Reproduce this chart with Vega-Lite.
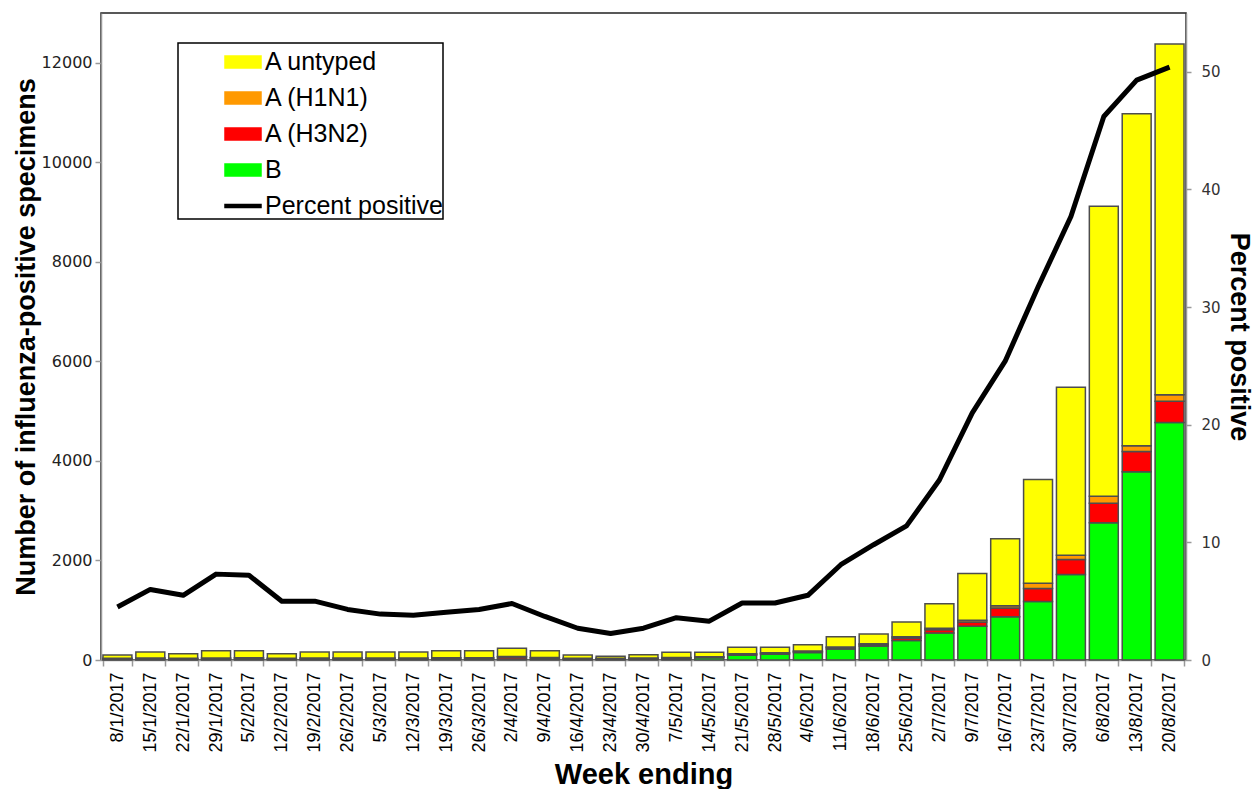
{
  "$schema": "https://vega.github.io/schema/vega-lite/v6.json",
  "width": 1085,
  "height": 647,
  "autosize": "none",
  "padding": {"left": 101, "top": 13, "right": 72, "bottom": 129},
  "background": "white",
  "config": {
    "view": {"stroke": "#222", "strokeWidth": 1.5},
    "axis": {"grid": false, "domainColor": "#999", "tickColor": "#999", "domainWidth": 1.5, "tickWidth": 1.5},
    "legend": {"strokeWidth": 1.5}
  },
  "data": {
    "values": [
      {"week": "8/1/2017", "B": 10, "H3N2": 20, "H1N1": 5, "untyped": 65, "pct": 4.5},
      {"week": "15/1/2017", "B": 10, "H3N2": 25, "H1N1": 5, "untyped": 120, "pct": 6.0},
      {"week": "22/1/2017", "B": 10, "H3N2": 20, "H1N1": 5, "untyped": 92, "pct": 5.5},
      {"week": "29/1/2017", "B": 10, "H3N2": 25, "H1N1": 5, "untyped": 147, "pct": 7.3},
      {"week": "5/2/2017", "B": 15, "H3N2": 25, "H1N1": 5, "untyped": 142, "pct": 7.2},
      {"week": "12/2/2017", "B": 10, "H3N2": 20, "H1N1": 5, "untyped": 92, "pct": 5.0},
      {"week": "19/2/2017", "B": 10, "H3N2": 25, "H1N1": 5, "untyped": 120, "pct": 5.0},
      {"week": "26/2/2017", "B": 10, "H3N2": 25, "H1N1": 5, "untyped": 120, "pct": 4.3},
      {"week": "5/3/2017", "B": 10, "H3N2": 25, "H1N1": 5, "untyped": 120, "pct": 3.9},
      {"week": "12/3/2017", "B": 10, "H3N2": 25, "H1N1": 5, "untyped": 120, "pct": 3.8},
      {"week": "19/3/2017", "B": 15, "H3N2": 25, "H1N1": 5, "untyped": 142, "pct": 4.05},
      {"week": "26/3/2017", "B": 15, "H3N2": 25, "H1N1": 5, "untyped": 142, "pct": 4.3},
      {"week": "2/4/2017", "B": 20, "H3N2": 40, "H1N1": 10, "untyped": 165, "pct": 4.8},
      {"week": "9/4/2017", "B": 15, "H3N2": 30, "H1N1": 5, "untyped": 137, "pct": 3.7},
      {"week": "16/4/2017", "B": 10, "H3N2": 20, "H1N1": 5, "untyped": 65, "pct": 2.7},
      {"week": "23/4/2017", "B": 10, "H3N2": 20, "H1N1": 5, "untyped": 38, "pct": 2.25},
      {"week": "30/4/2017", "B": 15, "H3N2": 20, "H1N1": 5, "untyped": 67, "pct": 2.7},
      {"week": "7/5/2017", "B": 25, "H3N2": 20, "H1N1": 5, "untyped": 104, "pct": 3.6},
      {"week": "14/5/2017", "B": 45, "H3N2": 15, "H1N1": 5, "untyped": 89, "pct": 3.3},
      {"week": "21/5/2017", "B": 95, "H3N2": 20, "H1N1": 10, "untyped": 129, "pct": 4.85},
      {"week": "28/5/2017", "B": 115, "H3N2": 20, "H1N1": 10, "untyped": 109, "pct": 4.85},
      {"week": "4/6/2017", "B": 150, "H3N2": 20, "H1N1": 10, "untyped": 128, "pct": 5.5},
      {"week": "11/6/2017", "B": 220, "H3N2": 30, "H1N1": 12, "untyped": 207, "pct": 8.1},
      {"week": "18/6/2017", "B": 280, "H3N2": 30, "H1N1": 15, "untyped": 197, "pct": 9.8},
      {"week": "25/6/2017", "B": 390, "H3N2": 50, "H1N1": 25, "untyped": 300, "pct": 11.4},
      {"week": "2/7/2017", "B": 540, "H3N2": 70, "H1N1": 30, "untyped": 491, "pct": 15.3},
      {"week": "9/7/2017", "B": 680, "H3N2": 85, "H1N1": 35, "untyped": 940, "pct": 21.0},
      {"week": "16/7/2017", "B": 870, "H3N2": 175, "H1N1": 45, "untyped": 1347, "pct": 25.4},
      {"week": "23/7/2017", "B": 1175, "H3N2": 260, "H1N1": 105, "untyped": 2087, "pct": 31.7},
      {"week": "30/7/2017", "B": 1720, "H3N2": 300, "H1N1": 85, "untyped": 3374, "pct": 37.7},
      {"week": "6/8/2017", "B": 2760, "H3N2": 390, "H1N1": 140, "untyped": 5825, "pct": 46.2},
      {"week": "13/8/2017", "B": 3780, "H3N2": 410, "H1N1": 115, "untyped": 6671, "pct": 49.3},
      {"week": "20/8/2017", "B": 4770, "H3N2": 430, "H1N1": 130, "untyped": 7046, "pct": 50.4}
    ]
  },
  "encoding": {
    "x": {
      "field": "week",
      "type": "nominal",
      "sort": null,
      "scale": {"paddingInner": 0.12, "paddingOuter": 0.06},
      "axis": {
        "title": "Week ending",
        "titleFont": "Liberation Sans",
        "titleFontSize": 29,
        "titleFontWeight": "bold",
        "titleColor": "#000",
        "titlePadding": 8,
        "labelAngle": 270,
        "labelFont": "Liberation Sans",
        "labelFontSize": 18,
        "labelColor": "#000",
        "labelPadding": 6,
        "tickBand": "extent",
        "tickSize": 6
      }
    }
  },
  "layer": [
    {
      "transform": [
        {"fold": ["B", "H3N2", "H1N1", "untyped"], "as": ["type", "count"]},
        {"calculate": "indexof(['B','H3N2','H1N1','untyped'], datum.type)", "as": "ord"}
      ],
      "mark": {"type": "bar", "stroke": "#4d4d4d", "strokeWidth": 1.5},
      "encoding": {
        "y": {
          "field": "count",
          "type": "quantitative",
          "stack": "zero",
          "scale": {"domain": [0, 13000], "nice": false},
          "axis": {
            "orient": "left",
            "values": [0, 2000, 4000, 6000, 8000, 10000, 12000],
            "format": "d",
            "title": "Number of influenza-positive specimens",
            "titleFont": "Liberation Sans",
            "titleFontSize": 27,
            "titleFontWeight": "bold",
            "titleColor": "#000",
            "titlePadding": 1,
            "labelFont": "DejaVu Sans",
            "labelFontSize": 16,
            "labelColor": "#222",
            "labelPadding": 3,
            "tickSize": 6
          }
        },
        "order": {"field": "ord", "type": "quantitative", "sort": "ascending"},
        "color": {
          "field": "type",
          "type": "nominal",
          "scale": {
            "domain": ["untyped", "H1N1", "H3N2", "B", "pct"],
            "range": ["#FFFF00", "#FF9900", "#FF0000", "#00FF00", "#000000"]
          },
          "legend": {
            "orient": "none",
            "legendX": 77,
            "legendY": 30,
            "title": null,
            "labelExpr": "{'untyped': 'A untyped', 'H1N1': 'A (H1N1)', 'H3N2': 'A (H3N2)', 'B': 'B', 'pct': 'Percent positive\u00a0\u00a0\u00a0\u00a0\u00a0\u00a0\u00a0\u00a0'}[datum.value]",
            "labelFont": "Liberation Sans",
            "labelFontSize": 25,
            "labelColor": "#000",
            "labelOffset": 3,
            "labelLimit": 400,
            "symbolType": "M-1,-0.33H1V0.33H-1Z",
            "symbolSize": 1296,
            "symbolStrokeWidth": 1.5,
            "symbolStrokeColor": "#444",
            "symbolOffset": 46,
            "rowPadding": 4,
            "padding": 0,
            "strokeColor": "#000",
            "fillColor": "#fff",
            "encode": {
              "symbols": {
                "update": {
                  "shape": {"signal": "datum.value === 'pct' ? 'M-1,-0.08H1V0.08H-1Z' : 'M-1,-0.33H1V0.33H-1Z'"},
                  "fill": {"signal": "scale('color', datum.value)"},
                  "stroke": {"signal": "datum.value === 'pct' ? '#000' : '#444'"},
                  "strokeWidth": {"value": 1.5},
                  "strokeOpacity": {"value": 1},
                  "opacity": {"value": 1}
                }
              }
            }
          }
        }
      }
    },
    {
      "mark": {"type": "line", "strokeWidth": 5, "strokeJoin": "round"},
      "encoding": {
        "y": {
          "field": "pct",
          "type": "quantitative",
          "scale": {"domain": [0, 55], "nice": false},
          "axis": {
            "orient": "right",
            "values": [0, 10, 20, 30, 40, 50],
            "title": "Percent positive",
            "titleAngle": 90,
            "titleFont": "Liberation Sans",
            "titleFontSize": 27,
            "titleFontWeight": "bold",
            "titleColor": "#000",
            "titlePadding": 4,
            "labelFont": "DejaVu Sans",
            "labelFontSize": 15,
            "labelColor": "#333",
            "labelPadding": 10,
            "tickSize": 5
          }
        },
        "color": {"datum": "pct"}
      }
    }
  ],
  "resolve": {"scale": {"y": "independent"}}
}
